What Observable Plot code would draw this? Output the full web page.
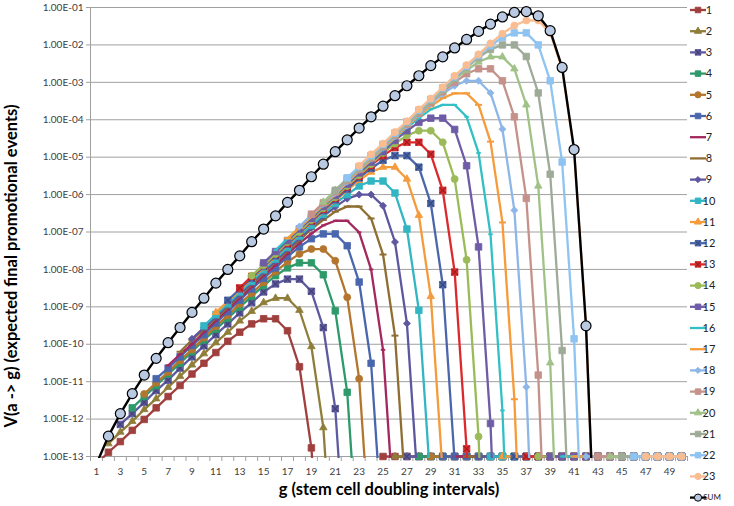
<!DOCTYPE html>
<html><head><meta charset="utf-8">
<script src="https://cdn.jsdelivr.net/npm/d3@7"></script>
<script src="https://cdn.jsdelivr.net/npm/@observablehq/plot@0.6"></script>
<style>
body{margin:0;background:#fff;}
#chart{position:relative;width:734px;height:506px;}
</style></head><body><div id="chart"></div>
<script>
// ---------- data ----------
const seriesNames = ["1","2","3","4","5","6","7","8","9","10","11","12","13","14","15","16","17","18","19","20","21","22","23"];
const seriesStart = [1,2,3,4,5,6,7,8,9,10,11,12,13,14,15,16,17,18,19,20,21,22,23];
const floorStart  = [25,26,27,28,29,30,31,32,33,34,35,36,37,38,39,40,41,42,43,44,45,46,47];
const lastG = 50;
const s1  = [6.3e-14,1.3e-13,2.5e-13,5.0e-13,9.8e-13,2.0e-12,4.0e-12,7.9e-12,1.6e-11,3.1e-11,6.0e-11,1.2e-10,2.1e-10,3.5e-10,4.8e-10,4.8e-10,2.3e-10,2.5e-11,1.7e-13,3.2e-18,3e-26];
const s2  = [2.2e-13,4.5e-13,8.7e-13,1.8e-12,3.5e-12,7.1e-12,1.4e-11,2.8e-11,5.6e-11,1.1e-10,2.1e-10,4.2e-10,7.6e-10,1.3e-9,1.7e-9,1.7e-9,8.1e-10,8.7e-11,5.9e-13,1.1e-17,1e-25];
const s3  = [7.2e-13,1.4e-12,2.8e-12,5.8e-12,1.1e-11,2.3e-11,4.6e-11,9.1e-11,1.8e-10,3.5e-10,6.9e-10,1.3e-9,2.5e-9,4.1e-9,5.5e-9,5.5e-9,2.6e-9,2.8e-10,1.9e-12,3.6e-17,3.6e-25];
const s4  = [2.0e-12,4.0e-12,7.8e-12,1.6e-11,3.1e-11,6.3e-11,1.3e-10,2.5e-10,5.0e-10,9.8e-10,1.9e-9,3.7e-9,6.8e-9,1.1e-8,1.5e-8,1.5e-8,7.2e-9,7.8e-10,5.2e-12,1e-16,1e-24];
const s5  = [4.7e-12,9.3e-12,1.8e-11,3.7e-11,7.2e-11,1.5e-10,3.0e-10,5.9e-10,1.2e-9,2.3e-9,4.5e-9,8.7e-9,1.6e-8,2.6e-8,3.5e-8,3.5e-8,1.7e-8,1.8e-9,1.2e-11,2.3e-16,2.3e-24];
const s6  = [1.2e-11,2.3e-11,4.6e-11,9.3e-11,1.8e-10,3.7e-10,7.4e-10,1.5e-9,3.0e-9,5.8e-9,1.1e-8,2.2e-8,4.0e-8,6.6e-8,8.9e-8,8.9e-8,4.3e-8,4.6e-9,3.1e-11,5.9e-16,5.9e-24];
const s7  = [2.7e-11,5.4e-11,1.0e-10,2.1e-10,4.2e-10,8.5e-10,1.7e-9,3.4e-9,6.8e-9,1.3e-8,2.6e-8,5.0e-8,9.1e-8,1.5e-7,2.0e-7,2.0e-7,9.8e-8,1.0e-8,7.1e-11,1.3e-15,1.3e-23];
const s8  = [6.3e-11,1.3e-10,2.5e-10,5.0e-10,9.8e-10,2.0e-9,4.0e-9,7.9e-9,1.6e-8,3.1e-8,6.0e-8,1.2e-7,2.1e-7,3.5e-7,4.8e-7,4.8e-7,2.3e-7,2.5e-8,1.7e-10,3.2e-15,3.2e-23];
const s9  = [1.4e-10,2.8e-10,5.4e-10,1.1e-9,2.1e-9,4.4e-9,8.7e-9,1.7e-8,3.5e-8,6.8e-8,1.3e-7,2.6e-7,4.7e-7,7.8e-7,1.0e-6,1.0e-6,5.0e-7,5.4e-8,3.6e-10,6.9e-15,6.9e-23];
const s10 = [3.1e-10,6.2e-10,1.2e-9,2.5e-9,4.8e-9,9.8e-9,1.9e-8,3.9e-8,7.8e-8,1.5e-7,3.0e-7,5.8e-7,1.0e-6,1.7e-6,2.3e-6,2.3e-6,1.1e-6,1.2e-7,8.1e-10,1.5e-14,1.5e-22];
const s11 = [7.1e-10,1.4e-9,2.8e-9,5.6e-9,1.1e-8,2.2e-8,4.5e-8,8.9e-8,1.8e-7,3.5e-7,6.8e-7,1.3e-6,2.4e-6,4.0e-6,5.4e-6,5.4e-6,2.6e-6,2.8e-7,1.9e-9,3.5e-14,3.5e-22];
const s12 = [1.5e-9,3.0e-9,5.8e-9,1.2e-8,2.3e-8,4.7e-8,9.3e-8,1.9e-7,3.7e-7,7.2e-7,1.4e-6,2.8e-6,5.0e-6,8.3e-6,1.1e-5,1.1e-5,5.4e-6,5.8e-7,3.9e-9,7.4e-14,7.4e-22];
const s13 = [3.2e-9,6.5e-9,1.3e-8,2.6e-8,5.0e-8,1.0e-7,2.0e-7,4.1e-7,8.1e-7,1.6e-6,3.1e-6,6.0e-6,1.1e-5,1.8e-5,2.5e-5,2.5e-5,1.2e-5,1.3e-6,8.5e-9,1.6e-13,1.6e-21];
const s14 = [6.8e-9,1.3e-8,2.6e-8,5.4e-8,1.0e-7,2.1e-7,4.3e-7,8.5e-7,1.7e-6,3.3e-6,6.5e-6,1.3e-5,2.3e-5,3.8e-5,5.1e-5,5.1e-5,2.5e-5,2.6e-6,1.8e-8,3.4e-13,3.4e-21];
const s15 = [1.5e-8,3.0e-8,5.9e-8,1.2e-7,2.3e-7,4.8e-7,9.5e-7,1.9e-6,3.8e-6,7.4e-6,1.4e-5,2.8e-5,5.1e-5,8.5e-5,1.1e-4,1.1e-4,5.5e-5,5.9e-6,4.0e-8,7.6e-13,7.6e-21];
const s16 = [3.3e-8,6.6e-8,1.3e-7,2.6e-7,5.1e-7,1.0e-6,2.1e-6,4.2e-6,8.3e-6,1.6e-5,3.2e-5,6.2e-5,1.1e-4,1.9e-4,2.5e-4,2.5e-4,1.2e-4,1.3e-5,8.7e-8,1.7e-12,1.7e-20];
const s17 = [6.8e-8,1.3e-7,2.6e-7,5.4e-7,1.0e-6,2.1e-6,4.3e-6,8.5e-6,1.7e-5,3.3e-5,6.5e-5,1.3e-4,2.3e-4,3.8e-4,5.1e-4,5.1e-4,2.5e-4,2.6e-5,1.8e-7,3.4e-12,3.4e-20];
const s18 = [1.4e-7,2.9e-7,5.6e-7,1.1e-6,2.2e-6,4.6e-6,9.1e-6,1.8e-5,3.6e-5,7.1e-5,1.4e-4,2.7e-4,4.9e-4,8.1e-4,1.1e-3,1.1e-3,5.2e-4,5.6e-5,3.8e-7,7.2e-12,7.2e-20];
const s19 = [3.0e-7,6.0e-7,1.2e-6,2.4e-6,4.7e-6,9.5e-6,1.9e-5,3.8e-5,7.6e-5,1.5e-4,2.9e-4,5.6e-4,1.0e-3,1.7e-3,2.3e-3,2.3e-3,1.1e-3,1.2e-4,7.9e-7,1.5e-11,1.5e-19];
const s20 = [6.3e-7,1.3e-6,2.5e-6,5.0e-6,9.8e-6,2.0e-5,4.0e-5,7.9e-5,1.6e-4,3.1e-4,6.0e-4,1.2e-3,2.1e-3,3.5e-3,4.8e-3,4.8e-3,2.3e-3,2.5e-4,1.7e-6,3.2e-11,3.2e-19];
const s21 = [1.3e-6,2.7e-6,5.2e-6,1.1e-5,2.1e-5,4.3e-5,8.5e-5,1.7e-4,3.4e-4,6.6e-4,1.3e-3,2.5e-3,4.6e-3,7.6e-3,1.0e-2,1.0e-2,4.9e-3,5.2e-4,3.5e-6,6.8e-11,6.8e-19];
const s22 = [2.8e-6,5.6e-6,1.1e-5,2.2e-5,4.4e-5,8.9e-5,1.8e-4,3.5e-4,7.1e-4,1.4e-3,2.7e-3,5.2e-3,9.5e-3,1.6e-2,2.1e-2,2.1e-2,1.0e-2,1.1e-3,7.4e-6,1.4e-10,1.4e-18];
const s23 = [5.9e-6,1.2e-5,2.3e-5,4.7e-5,9.1e-5,1.9e-4,3.7e-4,7.4e-4,1.5e-3,2.9e-3,5.6e-3,1.1e-2,2.0e-2,3.3e-2,4.5e-2,4.5e-2,2.1e-2,2.3e-3,1.5e-5,3.0e-10,3.0e-18];
const seriesValues = [s1,s2,s3,s4,s5,s6,s7,s8,s9,s10,s11,s12,s13,s14,s15,s16,s17,s18,s19,s20,s21,s22,s23];
const sumStart = 1;
const sumValues = [6.3e-14,3.5e-13,1.4e-12,4.8e-12,1.5e-11,4.2e-11,1.1e-10,2.8e-10,7.1e-10,1.7e-9,4.3e-9,1.0e-8,2.3e-8,5.5e-8,1.2e-7,2.7e-7,6.2e-7,1.3e-6,3.0e-6,6.5e-6,1.4e-5,2.9e-5,6.0e-5,1.2e-4,2.3e-4,4.4e-4,8.1e-4,1.5e-3,2.8e-3,4.8e-3,8.3e-3,1.4e-2,2.3e-2,3.6e-2,5.6e-2,7.4e-2,7.8e-2,6.0e-2,2.4e-2,2.5e-3,1.6e-5,3.1e-10,3.0e-18];

const yTicks = [1e-13,1e-12,1e-11,1e-10,1e-9,1e-8,1e-7,1e-6,1e-5,1e-4,1e-3,1e-2,1e-1];
const yTickLabels = ["1.00E-13","1.00E-12","1.00E-11","1.00E-10","1.00E-09","1.00E-08","1.00E-07","1.00E-06","1.00E-05","1.00E-04","1.00E-03","1.00E-02","1.00E-01"];
const xTickLabels = [1,3,5,7,9,11,13,15,17,19,21,23,25,27,29,31,33,35,37,39,41,43,45,47,49];
const xTitle = "g (stem cell doubling intervals)";
const yTitle = "V(a -> g) (expected final promotional events)";

// ---------- styles ----------
const colors = ["#A0403E","#8F7D3A","#5E5AA0","#2E9A6A","#B4762F","#4A67AE","#A3285E","#8E6E32","#5D57A0","#33B6C4","#F49B3C","#4B66AB","#DB2A2D","#9BBB59","#6E5CA6","#33C0C4","#F79B3A","#8DB7E8","#C4928A","#A0C288","#9EAB98","#8EC3F2","#FABD91"];
const markers = ["square","triangle","xsquare","square","circle","square","shortdash","dash","diamond","square","triangle","xsquare","xsquare","circle","square","shortdash","dash","diamond","square","triangle","square","square","circle"];
const yMin = 1e-13;
const FONT = "Lato, 'Open Sans', sans-serif";

const dashSym = {draw(ctx, size){ const w = Math.sqrt(size) * 0.55; ctx.moveTo(-w,0); ctx.lineTo(w,0); }};
const shortDashSym = {draw(ctx, size){ const w = Math.sqrt(size) * 0.35; ctx.moveTo(-w,0); ctx.lineTo(w,0); }};

function rowsFor(start, vals, floorFrom){
  const rows = [];
  vals.forEach((v,k)=>rows.push({g:start+k, v}));
  if (floorFrom != null) {
    for (let g = start+vals.length; g < floorFrom; g++) rows.push({g, v:null});
    for (let g = floorFrom; g <= lastG; g++) rows.push({g, v:0});
  }
  return rows.map(r => ({g:r.g, y: r.v === 0 ? yMin : (r.v == null ? NaN : r.v), v:r.v}));
}
const visible = r => r.v === 0 || (r.v != null && r.v >= yMin*0.999);

function markerMarks(data, type, c){
  const dk = d3.color(c).darker(0.9).formatHex();
  const base = {x:"g", y:"y"};
  switch(type){
    case "square": return [Plot.dot(data,{...base, symbol:"square", r:3.7, fill:c, stroke:c, strokeWidth:0.8})];
    case "triangle": return [Plot.dot(data,{...base, symbol:"triangle", r:2.8, fill:c, stroke:c, strokeWidth:0.8})];
    case "circle": return [Plot.dot(data,{...base, symbol:"circle", r:3.5, fill:c, stroke:c, strokeWidth:0.8})];
    case "diamond": return [Plot.dot(data,{...base, symbol:"diamond2", r:3.2, fill:c, stroke:c, strokeWidth:0.8})];
    case "xsquare": return [Plot.dot(data,{...base, symbol:"square", r:3.7, fill:c, stroke:c, strokeWidth:0.8}),
                            Plot.dot(data,{...base, symbol:"times", r:3.0, fill:"none", stroke:dk, strokeWidth:1.2})];
    case "dash": return [Plot.dot(data,{...base, symbol:dashSym, r:3.6, fill:"none", stroke:c, strokeWidth:2})];
    case "shortdash": return [Plot.dot(data,{...base, symbol:shortDashSym, r:3.6, fill:"none", stroke:c, strokeWidth:2})];
  }
  return [];
}

const marks = [];
marks.push(Plot.ruleY(yTicks.slice(1), {stroke:"#A0A0A0", strokeWidth:1}));
marks.push(Plot.axisY({ticks:yTicks, tickFormat:(d)=>yTickLabels[yTicks.indexOf(d)], tickSize:4, tickPadding:3, fontSize:10, color:"#404040", stroke:"#A0A0A0", label:null}));
marks.push(Plot.axisX({ticks:d3.range(0.5, 51, 1), tickFormat:()=>"" , tickSize:5, stroke:"#A0A0A0", label:null}));
marks.push(Plot.axisX({ticks:xTickLabels, tickSize:0, tickPadding:11, fontSize:10, color:"#404040", label:null}));
marks.push(Plot.ruleX([0.5], {stroke:"#A0A0A0"}));
marks.push(Plot.ruleY([yMin], {stroke:"#A0A0A0"}));

seriesValues.forEach((vals, i) => {
  const rows = rowsFor(seriesStart[i], vals, floorStart[i]);
  marks.push(Plot.line(rows, {x:"g", y:"y", stroke:colors[i], strokeWidth:2.3, clip:true}));
  marks.push(...markerMarks(rows.filter(visible), markers[i], colors[i]));
});
const sumRows = rowsFor(sumStart, sumValues, null);
marks.push(Plot.line(sumRows, {x:"g", y:"y", stroke:"#000", strokeWidth:2.4, clip:true}));
marks.push(Plot.dot(sumRows.filter(visible), {x:"g", y:"y", r:5, fill:"#B9C9E2", stroke:"#000", strokeWidth:1.2}));

marks.push(Plot.text([xTitle], {frameAnchor:"bottom", lineAnchor:"middle", textAnchor:"middle", dy:33, fontSize:16.5, fontWeight:"bold", fill:"#000"}));
marks.push(Plot.text([yTitle], {frameAnchor:"left", lineAnchor:"middle", textAnchor:"middle", rotate:-90, dx:-79, dy:34, fontSize:16.5, fontWeight:"bold", fill:"#000"}));

const chart = Plot.plot({
  width:734, height:506,
  marginLeft:90, marginRight:47, marginTop:7, marginBottom:50,
  x:{domain:[0.5, 50.5]},
  y:{type:"log", domain:[1e-13, 1e-1]},
  style:{fontFamily:FONT, background:"#fff"},
  marks
});
// let lines lying on the floor keep their full width
chart.querySelectorAll("clipPath rect").forEach(r => {
  r.setAttribute("height", +r.getAttribute("height") + 2);
});
// drop the empty labels of the category-boundary ticks
chart.querySelectorAll("text").forEach(t => { if (t.textContent === "") t.remove(); });

// legend
const svg = d3.select(chart);
const lg = svg.append("g").attr("font-family", FONT).attr("font-size", 11);
const entries = seriesNames.map((n,i)=>({name:n, color:colors[i], marker:markers[i]})).concat([{name:"SUM", color:"#000", marker:"sum"}]);
entries.forEach((e,i)=>{
  const y = 10 + i*21.2;
  const g = lg.append("g").attr("transform", `translate(0,${y})`);
  g.append("line").attr("x1",690).attr("x2",706).attr("y1",0).attr("y2",0).attr("stroke",e.color).attr("stroke-width",2.3);
  const cx = 698;
  const sym = (type, size) => d3.symbol(type, size)();
  const dk = d3.color(e.color).darker(0.9).formatHex();
  if (e.marker === "square" || e.marker === "xsquare") {
    g.append("path").attr("d", sym(d3.symbolSquare, 30)).attr("transform",`translate(${cx},0)`).attr("fill",e.color).attr("stroke",e.color);
    if (e.marker === "xsquare") g.append("path").attr("d", sym(d3.symbolTimes, 20)).attr("transform",`translate(${cx},0)`).attr("fill","none").attr("stroke",dk).attr("stroke-width",1.1);
  } else if (e.marker === "triangle") {
    g.append("path").attr("d", sym(d3.symbolTriangle, 22)).attr("transform",`translate(${cx},0)`).attr("fill",e.color).attr("stroke",e.color);
  } else if (e.marker === "circle") {
    g.append("circle").attr("cx",cx).attr("r",3.1).attr("fill",e.color).attr("stroke",e.color);
  } else if (e.marker === "diamond") {
    g.append("path").attr("d", sym(d3.symbolDiamond2, 24)).attr("transform",`translate(${cx},0)`).attr("fill",e.color).attr("stroke",e.color);
  } else if (e.marker === "sum") {
    g.append("circle").attr("cx",cx).attr("r",3.6).attr("fill","#B9C9E2").attr("stroke","#000").attr("stroke-width",1);
  }
  g.append("text").attr("x", e.name === "SUM" ? 712 : 709).attr("y",0).attr("dy","0.35em").attr("fill","#222").attr("font-size", e.name==="SUM"?8:11).text(e.name);
});

document.getElementById("chart").appendChild(chart);
</script>
</body></html>
